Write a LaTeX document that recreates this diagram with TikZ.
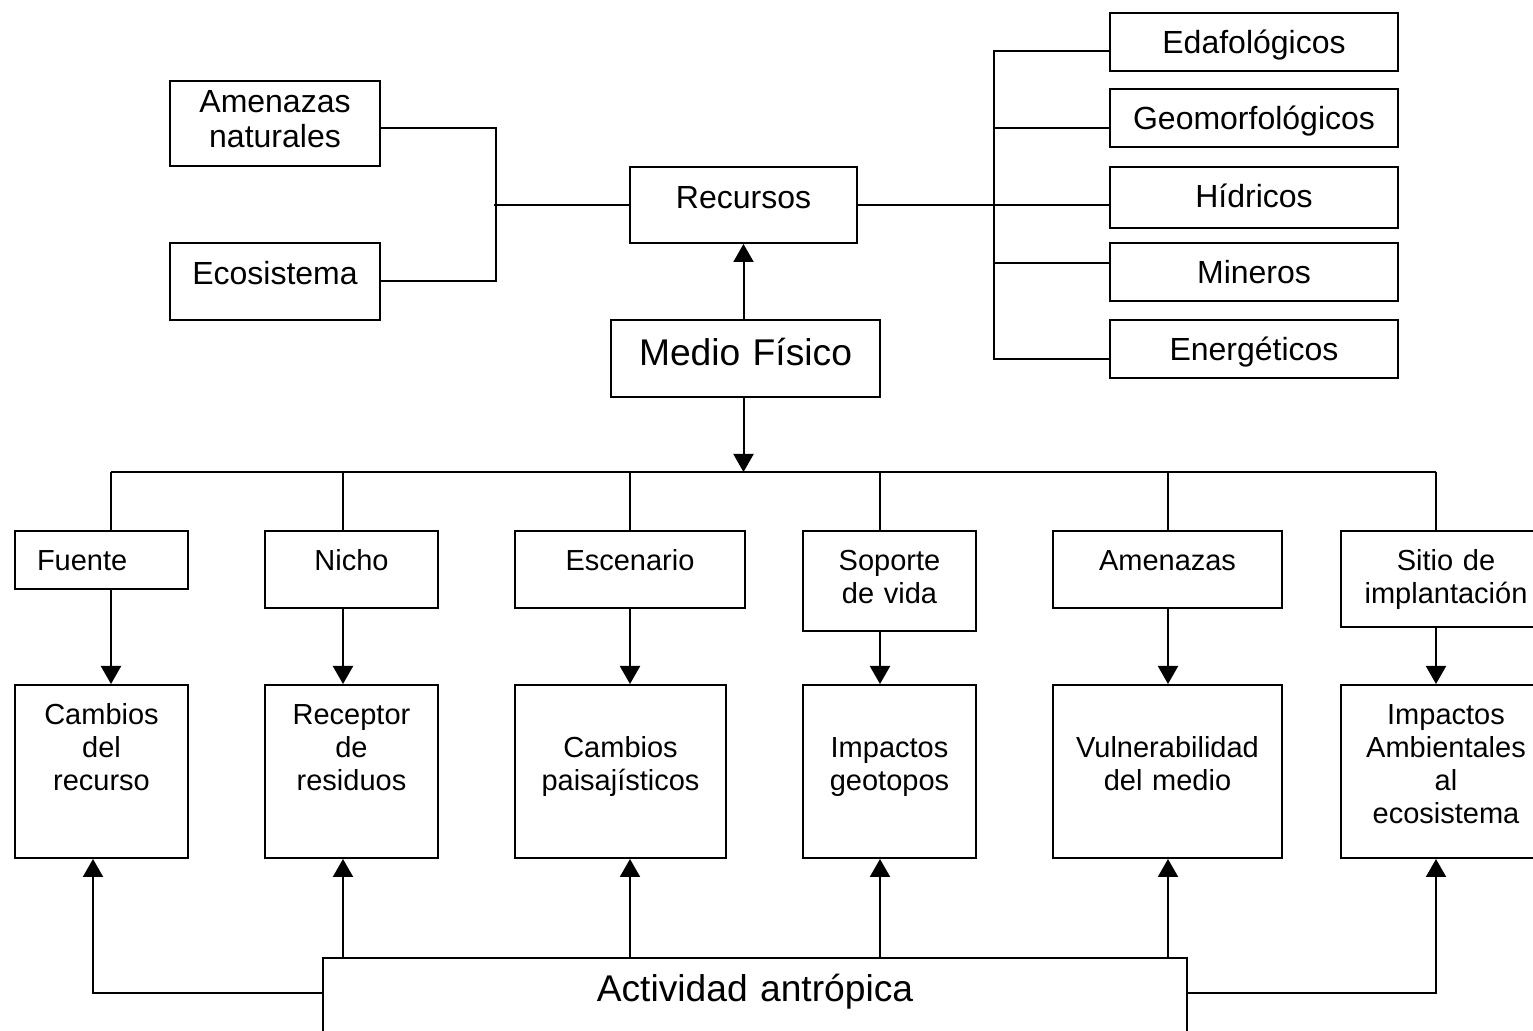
\documentclass[tikz,border=0pt]{standalone}
\usepackage{fontspec}
\setmainfont{Liberation Sans}
\usetikzlibrary{arrows.meta, positioning, calc}

\begin{document}
\begin{tikzpicture}[
        x=0.5pt, y=-0.5pt, line width=1pt,
        % Style for every box of the chart
        box/.style={
            draw,
            anchor=north,
            inner xsep=0pt,
            align=center
        },
        % Boxes round Recursos
        topbox/.style={box, font=\fontsize{16}{17.5}\selectfont, text height=11.5pt},
        % The two rows under the bus line
        rowbox/.style={box, font=\fontsize{14.5}{16.5}\selectfont, text height=10.5pt},
        % Medio Fisico and Actividad antropica
        bigbox/.style={box, font=\fontsize{18.6}{21}\selectfont, text height=13.3pt},
        % Filled arrow heads
        arrow_to/.style={
            -{Triangle[length=9pt, width=10pt]}
        }
    ]
    \clip (0,0) rectangle (1533,1031);

    % ==========================================
    % RECURSOS AND ITS BRANCHES
    % ==========================================
    \node[topbox, text width=105pt, inner ysep=4.25pt, text depth=22.5pt] (amen) at (275,80) {Amenazas\\naturales};
    \node[topbox, text width=105pt, inner ysep=9.25pt, text depth=8.5pt] (ecos) at (275,242) {Ecosistema};
    \node[topbox, text width=113.5pt, inner ysep=9.25pt, text depth=8pt] (recursos) at (743.5,166) {Recursos};

    \node[topbox, text width=144pt, inner ysep=8.75pt, text depth=0pt] (edaf) at (1254,12) {Edafológicos};
    \node[topbox, text width=144pt, inner ysep=8.75pt, text depth=0pt] (geom) at (1254,88) {Geomorfológicos};
    \node[topbox, text width=144pt, inner ysep=8.75pt, text depth=1.5pt] (hidr) at (1254,166) {Hídricos};
    \node[topbox, text width=144pt, inner ysep=8.75pt, text depth=0pt] (miner) at (1254,242) {Mineros};
    \node[topbox, text width=144pt, inner ysep=8.75pt, text depth=0pt] (ener) at (1254,319) {Energéticos};

    \draw ([yshift=-2.25pt]amen.east) -- ++(115,0) |- (ecos.east);
    \draw (recursos.west) -- ++(-135,0);
    \draw (recursos.east) -- (recursos.east -| hidr.west);
    \draw ([yshift=-4.5pt]edaf.west) -- ++(-115,0) |- ([yshift=-5pt]ener.west);
    \draw ([yshift=-5pt]geom.west) -- ++(-115,0);
    \draw ([yshift=4.5pt]miner.west) -- ++(-115,0);

    % ==========================================
    % MEDIO FISICO
    % ==========================================
    \node[bigbox, text width=134.5pt, inner ysep=9.6pt, text depth=6pt] (medio) at (745.5,319) {Medio Físico};
    \coordinate (bus) at (743.5,472);

    \draw[arrow_to] (recursos.south |- medio.north) -- (recursos.south);
    \draw[arrow_to] (recursos.south |- medio.south) -- (bus);

    % ==========================================
    % ROLES AND EFFECTS
    % ==========================================
    \node[rowbox, text width=64.5pt, inner xsep=11pt, align=left, inner ysep=9.2pt, text depth=0.1pt] (fuente) at (101.5,530) {Fuente};
    \node[rowbox, text width=86.5pt, inner ysep=9.2pt, text depth=9.6pt] (nicho) at (351.5,530) {Nicho};
    \node[rowbox, text width=115pt, inner ysep=9.2pt, text depth=9.6pt] (escen) at (630,530) {Escenario};
    \node[rowbox, text width=86.5pt, inner ysep=9.2pt, text depth=21.1pt] (soporte) at (889.5,530) {Soporte\\de vida};
    \node[rowbox, text width=114.5pt, inner ysep=9.2pt, text depth=9.6pt] (amenz) at (1167.5,530) {Amenazas};
    \node[rowbox, text width=105pt, inner ysep=9.2pt, text depth=19.1pt] (sitio) at (1446,530) {Sitio de\\implantación};

    \node[rowbox, text width=86.5pt, inner ysep=9.2pt, text depth=57.6pt] (camb) at (101.5,684) {Cambios\\del\\recurso};
    \node[rowbox, text width=86.5pt, inner ysep=9.2pt, text depth=57.6pt] (recep) at (351.5,684) {Receptor\\de\\residuos};
    \node[rowbox, text width=105.5pt, inner ysep=25.7pt, text depth=24.6pt] (paisa) at (620.5,684) {Cambios\\paisajísticos};
    \node[rowbox, text width=86.5pt, inner ysep=25.7pt, text depth=24.6pt] (geot) at (889.5,684) {Impactos\\geotopos};
    \node[rowbox, text width=114.5pt, inner ysep=25.7pt, text depth=24.6pt] (vuln) at (1167.5,684) {Vulnerabilidad\\del medio};
    \node[rowbox, text width=105pt, inner ysep=9.2pt, text depth=57.6pt] (impam) at (1446,684) {Impactos\\Ambientales\\al\\ecosistema};

    % bus line and drops
    \foreach \n/\x in {fuente/111, nicho/343, escen/630, soporte/880, amenz/1168, sitio/1436}
        \coordinate (d-\n) at (\x,472);
    \draw (d-fuente) -- (d-sitio);
    \foreach \n/\m in {fuente/camb, nicho/recep, escen/paisa, soporte/geot, amenz/vuln, sitio/impam} {
        \draw (d-\n) -- (d-\n |- \n.north);
        \draw[arrow_to] (d-\n |- \n.south) -- (d-\n |- \m.north);
    }

    % ==========================================
    % ACTIVIDAD ANTROPICA
    % ==========================================
    \node[bigbox, text width=432pt, inner ysep=8.6pt, text depth=20pt] (act) at (755,957) {Actividad antrópica};

    \foreach \n/\m in {nicho/recep, escen/paisa, soporte/geot, amenz/vuln}
        \draw[arrow_to] (d-\n |- act.north) -- (d-\n |- \m.south);
    \draw[arrow_to] ([yshift=7.75pt]act.west) -| ([xshift=-4.25pt]camb.south);
    \draw[arrow_to] ([yshift=7.75pt]act.east) -| (d-sitio |- impam.south);

\end{tikzpicture}
\end{document}
